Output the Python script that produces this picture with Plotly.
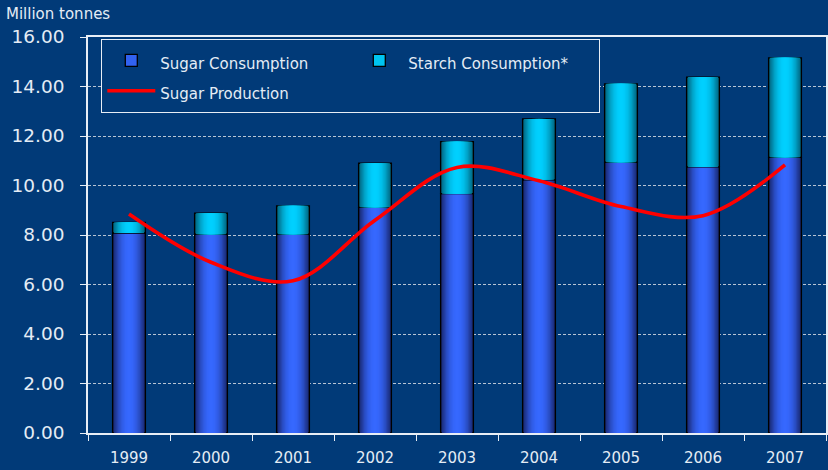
import plotly.graph_objects as go

# ---- data ----
years = ['1999', '2000', '2001', '2002', '2003', '2004', '2005', '2006', '2007']
sugar_consumption = [8.08, 8.03, 8.03, 9.12, 9.67, 10.23, 10.94, 10.75, 11.14]
starch_consumption = [0.43, 0.85, 1.15, 1.78, 2.10, 2.46, 3.17, 3.63, 4.02]
sugar_production = [8.85, 6.90, 6.15, 8.60, 10.73, 10.19, 9.15, 8.78, 10.83]
y_ticks = [0, 2, 4, 6, 8, 10, 12, 14, 16]

# ---- style ----
BG = '#013A78'
TXT = '#E4ECF5'
BAR_W = 0.40
N_LAYERS = 12


def mix(c1, c2, t):
    a = [int(c1[i:i + 2], 16) for i in (1, 3, 5)]
    b = [int(c2[i:i + 2], 16) for i in (1, 3, 5)]
    return 'rgb(%d,%d,%d)' % tuple(round(a[i] + (b[i] - a[i]) * t) for i in range(3))


def gradient_bars(fig, y, base, bright, dark):
    for k in range(N_LAYERS):
        frac = 1 - k / N_LAYERS
        t = frac ** 2.2
        fig.add_trace(go.Bar(
            x=years, y=y, base=base, width=BAR_W * frac,
            marker=dict(color=mix(bright, dark, t),
                        line=dict(color='#000000', width=1.3 if k == 0 else 0)),
            showlegend=False, hoverinfo='skip'))


def leg(name):
    return '<span style="font-size:15px">%s</span>' % name


fig = go.Figure()

# legend entries
fig.add_trace(go.Bar(x=[None], y=[None], name=leg('Sugar Consumption'),
                     marker=dict(color='#3262F0', line=dict(color='#000000', width=1.3))))
fig.add_trace(go.Bar(x=[None], y=[None], name=leg('Starch Consumption*'),
                     marker=dict(color='#00C4F0', line=dict(color='#000000', width=1.3))))

gradient_bars(fig, sugar_consumption, None, '#3668FF', '#17256A')
gradient_bars(fig, starch_consumption, sugar_consumption, '#00D0FF', '#00607A')

fig.add_trace(go.Scatter(x=years, y=sugar_production, name=leg('Sugar Production'),
                         mode='lines', line=dict(color='#FF0000', width=3.6, shape='spline', smoothing=1.0)))

fig.update_layout(
    width=828, height=470,
    margin=dict(l=88, r=2, t=37, b=37, autoexpand=False),
    paper_bgcolor=BG, plot_bgcolor=BG,
    barmode='overlay',
    font=dict(family='DejaVu Sans', color=TXT),
    legend=dict(orientation='h', x=13 / 738, y=1 - 2 / 396, xanchor='left', yanchor='top',
                bgcolor=BG, bordercolor='#E8EEF6', borderwidth=1.3,
                entrywidth=185, entrywidthmode='pixels',
                font=dict(size=21, color=TXT), itemwidth=48, tracegroupgap=0),
    showlegend=True,
    annotations=[dict(text='Million tonnes', xref='paper', yref='paper',
                      x=-84 / 738, y=1 + 34 / 396, xanchor='left', yanchor='top',
                      showarrow=False, font=dict(size=15, color=TXT))],
)

fig.update_xaxes(type='category', showline=True, linecolor='#E8EEF6', linewidth=1.5, mirror=True,
                 ticks='outside', tickson='boundaries', ticklen=6, tickcolor='#E8EEF6', tickwidth=1.2,
                 showgrid=False, tickfont=dict(size=15, color=TXT), ticklabelstandoff=10,
                 automargin=False)
fig.update_yaxes(range=[0, 16], tickvals=y_ticks, tickformat='.2f',
                 showline=True, linecolor='#E8EEF6', linewidth=1.5, mirror=True,
                 ticks='outside', ticklen=6, tickcolor='#E8EEF6', tickwidth=1.2,
                 showgrid=True, gridcolor='#B8C4D4', gridwidth=1, griddash='3px,2px',
                 zeroline=False, tickfont=dict(size=18.5, color=TXT), ticklabelstandoff=12,
                 automargin=False)

fig.write_html('out.html', config={'displayModeBar': False},
               post_script="document.body.style.margin='0';document.body.style.overflow='hidden';")
